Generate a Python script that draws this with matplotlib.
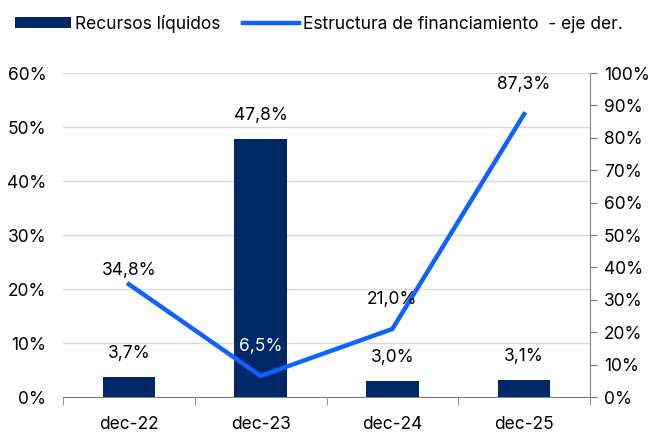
import matplotlib.pyplot as plt
import numpy as np

plt.rcParams['font.family'] = ['Inter', 'DejaVu Sans']

# data
cats = ['dec-22', 'dec-23', 'dec-24', 'dec-25']
recursos = [3.7, 47.8, 3.0, 3.1]          # % left axis
estructura = [34.8, 6.5, 21.0, 87.3]      # % right axis

bar_col = '#002868'
line_col = '#0F62FE'
fs = 12.5

fig = plt.figure(figsize=(6.55, 4.32), dpi=100)
ax = fig.add_axes([63/655, 35/432, 527/655, 324/432])
ax2 = ax.twinx()

x = np.arange(len(cats))
bars = ax.bar(x, recursos, width=0.4, color=bar_col, zorder=2, label='Recursos líquidos')
ax.set_xlim(-0.5, 3.5)
ax.set_ylim(0, 60)
ax.set_yticks(np.arange(0, 61, 10))
ax.set_yticklabels([f'{v}%' for v in range(0, 61, 10)])
ax.grid(axis='y', color='#d9d9d9', lw=1, zorder=0)
ax.set_axisbelow(True)

ln, = ax2.plot(x, estructura, color=line_col, lw=3.2, zorder=3,
               label='Estructura de financiamiento  - eje der.')
ax2.set_ylim(0, 100)
ax2.set_yticks(np.arange(0, 101, 10))
ax2.set_yticklabels([f'{v}%' for v in range(0, 101, 10)])

# spines / ticks
for s in ['top', 'left']:
    ax.spines[s].set_visible(False)
    ax2.spines[s].set_visible(False)
ax.spines['right'].set_visible(False)
ax.spines['bottom'].set_color('#808080')
ax2.spines['bottom'].set_visible(False)
ax2.spines['right'].set_color('#808080')
ax.tick_params(axis='y', length=0, labelsize=fs, pad=12)
ax2.tick_params(axis='y', length=5, color='#808080', labelsize=fs, pad=5)
ax.set_xticks(x)
ax.set_xticklabels(cats)
ax.tick_params(axis='x', length=0, labelsize=fs, pad=14)
ax.set_xticks(np.arange(-0.5, 4, 1), minor=True)
ax.tick_params(axis='x', which='minor', length=6, color='#808080')

# labels
for i, v in enumerate(recursos):
    ax.annotate(f'{v:.1f}%'.replace('.', ','), (i, v), xytext=(0, 17),
                textcoords='offset points', ha='center', va='center', fontsize=fs)
offs = [10, 21, 21, 21]
tcol = ['black', 'white', 'black', 'black']
for i, v in enumerate(estructura):
    ax2.annotate(f'{v:.1f}%'.replace('.', ','), (i, v), xytext=(0, offs[i]),
                 textcoords='offset points', ha='center', va='center',
                 fontsize=fs, color=tcol[i], zorder=5)

fig.legend([bars, ln], [bars.get_label(), ln.get_label()], loc='upper left',
           bbox_to_anchor=(-0.006, 1.01), ncol=2, frameon=False, fontsize=fs,
           handlelength=3.2, handleheight=0.6, columnspacing=1.3,
           handletextpad=0.25, borderaxespad=0.7)

fig.savefig('out.png', dpi=100)
